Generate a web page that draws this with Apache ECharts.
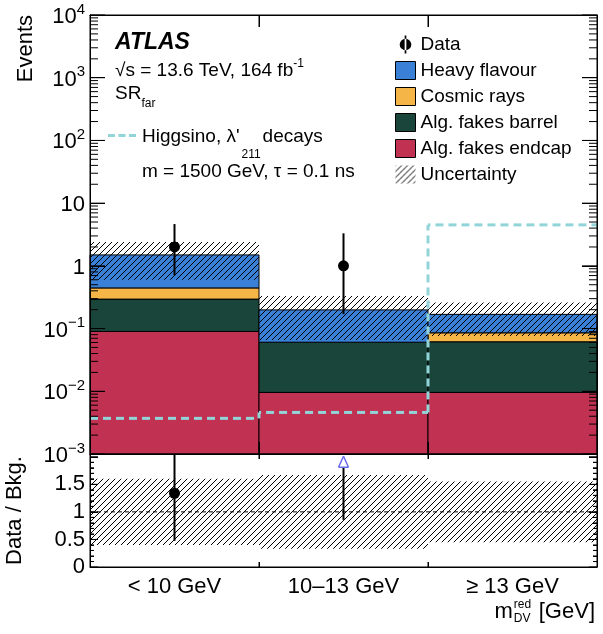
<!DOCTYPE html>
<html><head><meta charset="utf-8">
<script src="https://cdn.jsdelivr.net/npm/echarts@6/dist/echarts.min.js"></script>
<style>html,body{margin:0;padding:0;background:#fff}#c{width:603px;height:634px}</style>
</head><body><div id="c"></div>
<script>
// ---------------- data ----------------
const categories   = ['< 10 GeV', '10–13 GeV', '≥ 13 GeV'];
const fakesEndcap  = [0.090, 0.0096, 0.0096];
const fakesBarrel  = [0.205, 0.051, 0.052];
const cosmicRays   = [0.150, 0.0, 0.024];
const heavyFlavour = [1.050, 0.138, 0.083];
const uncRelLow    = [0.40, 0.33, 0.45];
const uncRelHigh   = [1.60, 1.67, 1.55];
const dataCounts   = [2, 1, 0];
const dataErrLow   = [0.71, 0.17, 0];
const dataErrHigh  = [4.64, 3.30, 1.84];
const signalHiggsino = [0.0037, 0.0046, 4.5];
const ratioTickLabels = ['0', '0.5', '1', '1.5'];

// ---------------- style ----------------
const FONT = "'Liberation Sans', Arial, Helvetica, sans-serif";
const C_HF = '#3a80d6', C_COS = '#f5b547', C_BAR = '#1a453b', C_END = '#c13152', C_SIG = '#92d5d9';
const Y_MIN = 1e-3, Y_MAX = 1e4, R_MAX = 2.05;

function makeHatch(step) {
  const cv = document.createElement('canvas'); cv.width = step; cv.height = step;
  const g = cv.getContext('2d'); g.strokeStyle = '#000'; g.lineWidth = 1; g.beginPath();
  g.moveTo(0, step); g.lineTo(step, 0); g.moveTo(-1, 1); g.lineTo(1, -1);
  g.moveTo(step - 1, step + 1); g.lineTo(step + 1, step - 1); g.stroke();
  return { image: cv, repeat: 'repeat' };
}
const hatch = makeHatch(6);
function measure(text, font) { const g = document.createElement('canvas').getContext('2d'); g.font = font; return g.measureText(text).width; }

function dashes(points, on, off, style) {
  const out = []; let draw = true, left = on;
  for (let k = 1; k < points.length; k++) {
    let [x0, y0] = points[k - 1]; const [x1, y1] = points[k];
    let len = Math.hypot(x1 - x0, y1 - y0); if (len === 0) continue;
    const ux = (x1 - x0) / len, uy = (y1 - y0) / len;
    while (len > 0) {
      const s = Math.min(left, len);
      if (draw) out.push({ type: 'line', shape: { x1: x0, y1: y0, x2: x0 + ux * s, y2: y0 + uy * s }, style });
      x0 += ux * s; y0 += uy * s; len -= s; left -= s;
      if (left <= 1e-9) { draw = !draw; left = draw ? on : off; }
    }
  }
  return out;
}

// ---------------- derived ----------------
const layers = [fakesEndcap, fakesBarrel, cosmicRays, heavyFlavour];
const total = categories.map((_, i) => layers.reduce((s, l) => s + l[i], 0));
const cumLow = [], cumHigh = [];
layers.forEach((l, k) => {
  cumLow.push(categories.map((_, i) => k === 0 ? Y_MIN : cumHigh[k - 1][i]));
  cumHigh.push(categories.map((_, i) => (k === 0 ? 0 : cumHigh[k - 1][i]) + l[i]));
});
function bandW(params) { return params.coordSys.width / categories.length; }

function stackSeries(name, k, color) {
  return { type: 'custom', name, xAxisIndex: 0, yAxisIndex: 0, silent: true, z: 2, itemStyle: { color },
    data: categories.map((_, i) => [i, cumLow[k][i], cumHigh[k][i]]), encode: { x: 0, y: [1, 2] },
    renderItem: (params, api) => {
      const i = api.value(0), lo = api.value(1), hi = api.value(2);
      if (!(hi > lo)) return null;
      const w = bandW(params), p1 = api.coord([i, hi]), p0 = api.coord([i, lo]);
      return { type: 'rect', shape: { x: p1[0] - w / 2, y: p1[1], width: w, height: p0[1] - p1[1] }, style: { fill: color, stroke: '#000', lineWidth: 1 } };
    } };
}
function supLabel(v) {
  const e = Math.round(Math.log10(v));
  if (e === 0) return '{b|1}'; if (e === 1) return '{b|10}';
  return '{b|10}{s|' + (e < 0 ? '−' + (-e) : e) + '}';
}
function ax(extra, tickLen, minor) {
  const o = Object.assign({ z: 6, axisLine: { show: true, onZero: false, lineStyle: { color: '#000', width: 1 } },
    axisTick: { show: true, inside: true, length: tickLen, lineStyle: { color: '#000', width: 1 } }, splitLine: { show: false } }, extra);
  if (minor) o.minorTick = { show: true, splitNumber: 5, length: minor, lineStyle: { color: '#000', width: 1 } };
  return o;
}

const f19 = '19px ' + FONT;
const t1 = "Higgsino, λ'";
const t1w = measure(t1, f19);
const gevW = measure('[GeV]', '22px ' + FONT);
const gevL = 595 - gevW;
function ttl(left, top, text, ts, right) {
  const o = { top, text, padding: 0, itemGap: 0, textStyle: Object.assign({ color: '#000', fontFamily: FONT, fontWeight: 'normal' }, ts) };
  if (right !== undefined) o.right = right; else o.left = left;
  return o;
}

const chart = echarts.init(document.getElementById('c'));
const textGraphics = [
  { type: 'text', x: 26, y: 15, rotation: Math.PI / 2, silent: true,
    style: { text: 'Events', font: '22px ' + FONT, fill: '#000', align: 'right', verticalAlign: 'middle' } }
];
const option = {
  animation: false,
  textStyle: { fontFamily: FONT, color: '#000' },
  title: [
    ttl(115, 31, 'ATLAS', { fontSize: 23, lineHeight: 24, fontStyle: 'italic', fontWeight: 'bold' }),
    ttl(115, 58, '{n|√s = 13.6 TeV, 164 fb}{s|-1}', { rich: { n: { fontSize: 19, fontFamily: FONT, color: '#000', lineHeight: 22, verticalAlign: 'bottom' }, s: { fontSize: 12, fontFamily: FONT, color: '#000', lineHeight: 22, verticalAlign: 'top' } } }),
    ttl(115, 84, '{n|SR}{s|far}', { rich: { n: { fontSize: 19, fontFamily: FONT, color: '#000', lineHeight: 26, verticalAlign: 'top' }, s: { fontSize: 12, fontFamily: FONT, color: '#000', lineHeight: 26, verticalAlign: 'bottom' } } }),
    ttl(142, 126, t1, { fontSize: 19, lineHeight: 22 }),
    ttl(142 + t1w + 2, 148, '211', { fontSize: 12, lineHeight: 14 }),
    ttl(142 + t1w + 23, 126, 'decays', { fontSize: 19, lineHeight: 22 }),
    ttl(142, 161, 'm = 1500 GeV, τ = 0.1 ns', { fontSize: 19, lineHeight: 22 }),
    ttl(0, 601, '[GeV]', { fontSize: 22, lineHeight: 22 }, 8),
    ttl(0, 601, 'm', { fontSize: 22, lineHeight: 22 }, 8 + gevW + 26),
    ttl(gevL - 25, 599, 'red', { fontSize: 12, lineHeight: 12 }),
    ttl(gevL - 25, 613, 'DV', { fontSize: 12, lineHeight: 12 })
  ],
  grid: [
    { left: 90, top: 15, width: 507, height: 439, outerBoundsMode: 'none', containLabel: false },
    { left: 90, top: 454, width: 507, height: 113, outerBoundsMode: 'none', containLabel: false }
  ],
  xAxis: [
    ax({ type: 'category', gridIndex: 0, data: categories, boundaryGap: true, position: 'bottom', axisLabel: { show: false } }, 12),
    ax({ type: 'category', gridIndex: 0, data: categories, boundaryGap: true, position: 'top', axisLabel: { show: false } }, 12),
    ax({ type: 'category', gridIndex: 1, data: categories, boundaryGap: true, position: 'bottom', axisLabel: { show: true, interval: 0, margin: 9, fontSize: 22, color: '#000', fontFamily: FONT } }, 5),
    ax({ type: 'category', gridIndex: 1, data: categories, boundaryGap: true, position: 'top', axisLabel: { show: false } }, 5)
  ],
  yAxis: [
    ax({ type: 'log', gridIndex: 0, logBase: 10, min: Y_MIN, max: Y_MAX, splitNumber: 7, position: 'left',
      axisLabel: { show: true, margin: 5, color: '#000', fontFamily: FONT, formatter: supLabel,
        rich: { b: { fontSize: 22, fontFamily: FONT, color: '#000', lineHeight: 26, verticalAlign: 'bottom' }, s: { fontSize: 15, fontFamily: FONT, color: '#000', lineHeight: 26, verticalAlign: 'top' } } } }, 15),
    ax({ type: 'log', gridIndex: 0, logBase: 10, min: Y_MIN, max: Y_MAX, splitNumber: 7, position: 'right', axisLabel: { show: false } }, 15),
    ax({ type: 'value', gridIndex: 1, min: 0, max: R_MAX, interval: 0.5, position: 'left', name: 'Data / Bkg.', nameLocation: 'middle', nameGap: 64, nameRotate: 90,
      nameTextStyle: { fontSize: 22, color: '#000', fontFamily: FONT },
      axisLabel: { show: true, margin: 5, fontSize: 22, color: '#000', fontFamily: FONT,
        formatter: v => { const k = Math.round(v * 2); return (Math.abs(v * 2 - k) < 1e-6 && k < ratioTickLabels.length) ? ratioTickLabels[k] : ''; } } }, 8, 4),
    ax({ type: 'value', gridIndex: 1, min: 0, max: R_MAX, interval: 0.5, position: 'right', axisLabel: { show: false } }, 8, 4)
  ],
  legend: [
    { orient: 'vertical', left: 395, top: 35, itemWidth: 20, itemHeight: 18, itemGap: 7, selectedMode: false, padding: 0,
      textStyle: { fontSize: 19, fontFamily: FONT, color: '#000', lineHeight: 18 },
      data: [
        { name: 'Data', icon: 'path://M9.2,0L10.8,0L10.8,17L9.2,17Z M4.5,8.5A5.5,5.5 0 1 0 15.5,8.5A5.5,5.5 0 1 0 4.5,8.5Z', itemStyle: { color: '#000', borderWidth: 0 } },
        { name: 'Heavy flavour', icon: 'rect', itemStyle: { color: C_HF, borderColor: '#000', borderWidth: 1 } },
        { name: 'Cosmic rays', icon: 'rect', itemStyle: { color: C_COS, borderColor: '#000', borderWidth: 1 } },
        { name: 'Alg. fakes barrel', icon: 'rect', itemStyle: { color: C_BAR, borderColor: '#000', borderWidth: 1 } },
        { name: 'Alg. fakes endcap', icon: 'rect', itemStyle: { color: C_END, borderColor: '#000', borderWidth: 1 } },
        { name: 'Uncertainty', icon: 'rect', itemStyle: { color: hatch, borderWidth: 0 } }
      ] },
    { orient: 'vertical', left: 108, top: 134, itemWidth: 28, itemHeight: 3, selectedMode: false, padding: 0,
      formatter: () => '', textStyle: { fontSize: 2, lineHeight: 3 },
      data: [{ name: 'Higgsino', icon: 'path://M0,0L7,0L7,3L0,3Z M10.5,0L17.5,0L17.5,3L10.5,3Z M21,0L28,0L28,3L21,3Z', itemStyle: { color: C_SIG, borderWidth: 0 } }] }
  ],
  graphic: textGraphics,
  series: [
    stackSeries('Alg. fakes endcap', 0, C_END),
    stackSeries('Alg. fakes barrel', 1, C_BAR),
    stackSeries('Cosmic rays', 2, C_COS),
    stackSeries('Heavy flavour', 3, C_HF),
    { type: 'custom', name: 'Uncertainty', xAxisIndex: 0, yAxisIndex: 0, silent: true, z: 3, itemStyle: { color: hatch },
      data: categories.map((_, i) => [i, total[i] * uncRelLow[i], total[i] * uncRelHigh[i]]), encode: { x: 0, y: [1, 2] },
      renderItem: (params, api) => { const i = api.value(0), w = bandW(params); const p1 = api.coord([i, api.value(2)]), p0 = api.coord([i, api.value(1)]);
        return { type: 'rect', shape: { x: p1[0] - w / 2, y: p1[1], width: w, height: p0[1] - p1[1] }, style: { fill: hatch } }; } },
    { type: 'custom', name: 'Higgsino', xAxisIndex: 0, yAxisIndex: 0, silent: true, z: 4, itemStyle: { color: C_SIG },
      data: signalHiggsino.map((v, i) => [i, v, i > 0 ? signalHiggsino[i - 1] : v]), encode: { x: 0, y: [1, 2] },
      renderItem: (params, api) => {
        const i = api.value(0), w = bandW(params);
        const c = api.coord([i, api.value(1)]), pc = api.coord([i, api.value(2)]);
        const x0 = c[0] - w / 2, x1 = c[0] + w / 2;
        const pts = i === 0 ? [[x0, c[1]], [x1, c[1]]] : [[x0, pc[1]], [x0, c[1]], [x1, c[1]]];
        return { type: 'group', children: dashes(pts, 8, 5, { stroke: C_SIG, lineWidth: 3 }) };
      } },
    { type: 'custom', name: 'Data', xAxisIndex: 0, yAxisIndex: 0, silent: true, z: 5, itemStyle: { color: '#000' },
      data: categories.map((_, i) => [i, Math.max(dataCounts[i], Y_MIN), Math.max(dataErrLow[i], Y_MIN), dataErrHigh[i], dataCounts[i]]),
      encode: { x: 0, y: [1, 2, 3] },
      renderItem: (params, api) => {
        if (!(api.value(4) > 0)) return null;
        const i = api.value(0);
        const c = api.coord([i, api.value(1)]), lo = api.coord([i, api.value(2)]), hi = api.coord([i, api.value(3)]);
        return { type: 'group', children: [
          { type: 'line', shape: { x1: c[0], y1: lo[1], x2: c[0], y2: hi[1] }, style: { stroke: '#000', lineWidth: 2 } },
          { type: 'circle', shape: { cx: c[0], cy: c[1], r: 5.5 }, style: { fill: '#000' } } ] };
      } },
    { type: 'custom', name: 'Uncertainty', xAxisIndex: 2, yAxisIndex: 2, silent: true, z: 3, itemStyle: { color: hatch },
      data: categories.map((_, i) => [i, uncRelLow[i], uncRelHigh[i]]), encode: { x: 0, y: [1, 2] },
      renderItem: (params, api) => { const i = api.value(0), w = bandW(params); const p1 = api.coord([i, api.value(2)]), p0 = api.coord([i, api.value(1)]);
        return { type: 'rect', shape: { x: p1[0] - w / 2, y: p1[1], width: w, height: p0[1] - p1[1] }, style: { fill: hatch } }; } },
    { type: 'custom', name: 'unity', xAxisIndex: 2, yAxisIndex: 2, silent: true, z: 4, data: [[0, 1]], encode: { x: 0, y: 1 },
      renderItem: (params, api) => { const cs = params.coordSys, y = api.coord([0, api.value(1)])[1];
        return { type: 'group', children: dashes([[cs.x, y], [cs.x + cs.width, y]], 4, 3, { stroke: '#000', lineWidth: 1 }) }; } },
    { type: 'custom', name: 'Data', xAxisIndex: 2, yAxisIndex: 2, silent: true, z: 5, itemStyle: { color: '#000' },
      data: categories.map((_, i) => [i, dataCounts[i] / total[i], dataErrLow[i] / total[i], dataErrHigh[i] / total[i], dataCounts[i]]),
      encode: { x: 0, y: 1 },
      renderItem: (params, api) => {
        if (!(api.value(4) > 0)) return null;
        const i = api.value(0), r = api.value(1), lo = api.value(2), hi = Math.min(api.value(3), R_MAX);
        const pLo = api.coord([i, lo]), pHi = api.coord([i, hi]);
        if (r > R_MAX) {
          const tip = api.coord([i, R_MAX - 0.04]), base = api.coord([i, R_MAX - 0.24]);
          return { type: 'group', children: [
            { type: 'line', shape: { x1: pLo[0], y1: pLo[1], x2: pLo[0], y2: base[1] }, style: { stroke: '#000', lineWidth: 2 } },
            { type: 'line', shape: { x1: tip[0] - 5, y1: base[1], x2: tip[0] + 5, y2: base[1] }, style: { stroke: '#6a6af0', lineWidth: 1.5 } },
            { type: 'line', shape: { x1: tip[0] - 5, y1: base[1], x2: tip[0], y2: tip[1] }, style: { stroke: '#6a6af0', lineWidth: 1.5 } },
            { type: 'line', shape: { x1: tip[0] + 5, y1: base[1], x2: tip[0], y2: tip[1] }, style: { stroke: '#6a6af0', lineWidth: 1.5 } } ] };
        }
        const c = api.coord([i, r]);
        return { type: 'group', children: [
          { type: 'line', shape: { x1: c[0], y1: pLo[1], x2: c[0], y2: pHi[1] }, style: { stroke: '#000', lineWidth: 2 } },
          { type: 'circle', shape: { cx: c[0], cy: c[1], r: 5.5 }, style: { fill: '#000' } } ] };
      } }
  ]
};
chart.setOption(option);

// ---------------- frame and ticks, positioned through the chart's own axes ----------------
(function addFrame() {
  const px = (spec, v) => chart.convertToPixel(spec, v);
  const c0 = px({ xAxisIndex: 0 }, categories[0]), c1 = px({ xAxisIndex: 0 }, categories[1]);
  const bw = c1 - c0, xL = c0 - bw / 2, xR = xL + bw * categories.length;
  const yT = px({ yAxisIndex: 0 }, Y_MAX), yB = px({ yAxisIndex: 0 }, Y_MIN);
  const rT = px({ yAxisIndex: 2 }, R_MAX), rB = px({ yAxisIndex: 2 }, 0);
  const st = { stroke: '#000', lineWidth: 1 };
  const els = [];
  const L = (x1, y1, x2, y2) => els.push({ type: 'line', silent: true, z: 100, shape: { x1, y1, x2, y2 }, style: st });
  // frames
  L(xL, yT, xR, yT); L(xL, yT, xL, yB); L(xR, yT, xR, yB); L(xL, yB, xR, yB);
  L(xL, rT, xL, rB); L(xR, rT, xR, rB); L(xL, rB, xR, rB);
  // log-axis ticks
  for (let e = Math.log10(Y_MIN); e <= Math.log10(Y_MAX); e++) {
    const y = px({ yAxisIndex: 0 }, Math.pow(10, e));
    L(xL, y, xL + 15, y); L(xR - 15, y, xR, y);
    if (e < Math.log10(Y_MAX)) for (let k = 2; k <= 9; k++) {
      const ym = px({ yAxisIndex: 0 }, k * Math.pow(10, e));
      L(xL, ym, xL + 8, ym); L(xR - 8, ym, xR, ym);
    }
  }
  // ratio-axis ticks
  for (let k = 0; k * 0.1 <= R_MAX + 1e-9; k++) {
    const y = px({ yAxisIndex: 2 }, k * 0.1), len = (k % 5 === 0) ? 8 : 4;
    L(xL, y, xL + len, y); L(xR - len, y, xR, y);
  }
  // bin-edge ticks
  for (let k = 1; k < categories.length; k++) {
    const x = xL + bw * k;
    L(x, yT, x, yT + 12); L(x, yB, x, yB - 12);
    L(x, rT, x, rT + 5); L(x, rB, x, rB - 5);
  }
  chart.setOption({ graphic: textGraphics.concat(els) });
})();
</script>
</body></html>
